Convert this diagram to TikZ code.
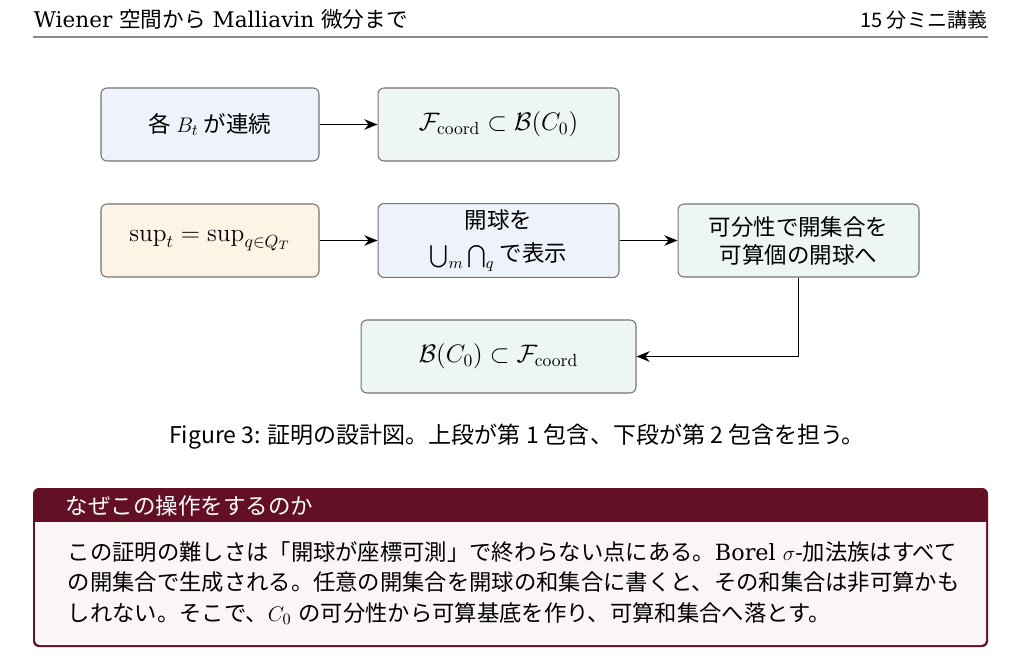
\documentclass[tikz,border=0pt]{standalone}
\usepackage[no-math]{fontspec}
\usepackage{amsmath,amssymb}
\setmainfont{DejaVu Serif}
\newfontfamily\cjk{Noto Sans CJK JP}
\usetikzlibrary{arrows,arrows.meta,calc,positioning,shapes}
\definecolor{my_blue}{RGB}{238, 242, 251}
\definecolor{my_green}{RGB}{237, 246, 240}
\definecolor{my_orange}{RGB}{254, 244, 230}
\definecolor{my_edge}{RGB}{115, 115, 115}
\definecolor{my_rule}{RGB}{135, 135, 135}
\definecolor{my_maroon}{RGB}{99, 16, 38}
\definecolor{my_body}{RGB}{251, 245, 247}
\tikzset{
  pfnode/.style = {align=center, draw=my_edge, line width=0.6pt, rounded corners=3.4pt,
  minimum height=1.46cm, text centered, font=\cjk\fontsize{12.8}{16}\selectfont},
  pf_b/.style = {pfnode, fill=my_blue},
  pf_g/.style = {pfnode, fill=my_green},
  pf_o/.style = {pfnode, fill=my_orange},
  pf_m/.style = {font=\cjk\fontsize{13.8}{16}\selectfont}
}

\begin{document}
\begin{tikzpicture}[x=0.02cm,y=-0.02cm,->,>={Stealth[length=7.5pt,width=6pt]},line width=1pt,
        hdtext/.style={inner sep=0pt, font=\fontsize{11.4}{14}\selectfont},
        boxtext/.style={inner sep=0pt, align=left, font=\fontsize{12.7}{15}\selectfont}]
  \useasboundingbox (0,0) rectangle (1024,665);
  % header
  \node [hdtext, anchor=base west, font=\fontsize{12.3}{14}\selectfont] (title) at (33,28) {Wiener {\cjk 空間から} Malliavin {\cjk 微分まで}};
  \node [hdtext, anchor=base east] (lecture) at (988,28) {\cjk 15 分ミニ講義};
  \draw [-, my_rule, line width=1.2pt] (33,37) -- (988,37);

  % first inclusion
  \node [pf_b, minimum width=4.36cm] (cont) at (210,124.5) {各 $B_t$ が連続};
  \node [pf_g, pf_m, minimum width=4.82cm] (fcb) at (498.5,124.5) {$\mathcal{F}_{\mathrm{coord}} \subset \mathcal{B}(C_0)$};
  \draw (cont) -- (fcb);

  % second inclusion
  \node [pf_o, pf_m, minimum width=4.36cm] (supq) at (210,240.5) {$\sup_t = \sup_{q\in Q_T}$};
  \node [pf_b, minimum width=4.82cm] (ball) at (498.5,240.5) {開球を\\[3pt]$\bigcup_m \bigcap_q$ で表示};
  \node [pf_g, minimum width=4.82cm] (sep) at (798.5,240.5) {可分性で開集合を\\可算個の開球へ};
  \node [pf_g, pf_m, minimum width=5.5cm] (bcf) at (498.5,356.5) {$\mathcal{B}(C_0) \subset \mathcal{F}_{\mathrm{coord}}$};
  \draw (supq) -- (ball);
  \draw (ball) -- (sep);
  \draw (sep.south) |- (bcf.east);

  % caption
  \node [hdtext, font=\cjk\fontsize{13.1}{15}\selectfont] (cap) at (517,437)
    {Figure 3: 証明の設計図。上段が第 1 包含、下段が第 2 包含を担う。};

  % box
  \fill [my_maroon, rounded corners=3.4pt] (33,488) rectangle (988,647);
  \fill [my_body] (35,522) [rounded corners=2.6pt] -- (35,645) -- (986,645) [sharp corners] -- (986,522) -- cycle;
  \node [hdtext, anchor=west, text=white, font=\cjk\fontsize{12.8}{15}\selectfont] (why) at (65,506) {なぜこの操作をするのか};
  \node [boxtext, anchor=west] (expl) at (67,583)
    {{\cjk この証明の難しさは「開球が座標可測」で終わらない点にある。}Borel $\sigma$-{\cjk 加法族はすべて}\\[2.5pt]
     {\cjk の開集合で生成される。任意の開集合を開球の和集合に書くと、その和集合は非可算かも}\\[2.5pt]
     {\cjk しれない。そこで、}$C_0$ {\cjk の可分性から可算基底を作り、可算和集合へ落とす。}};
\end{tikzpicture}
\end{document}
